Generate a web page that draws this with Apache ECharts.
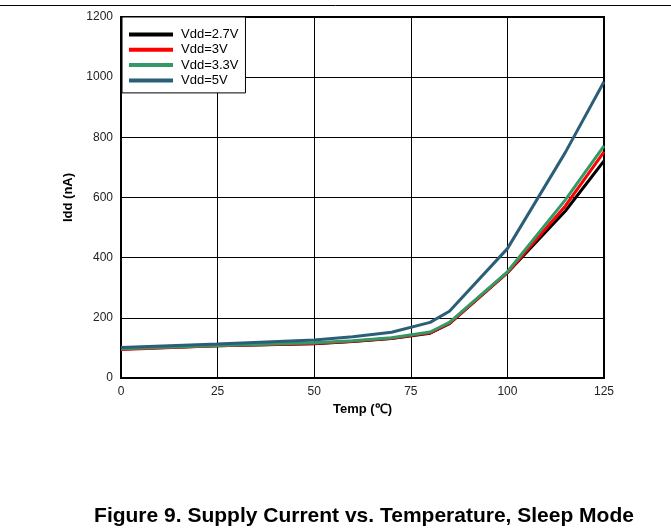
<!DOCTYPE html>
<html>
<head>
<meta charset="utf-8">
<script src="https://cdn.jsdelivr.net/npm/echarts@6/dist/echarts.min.js"></script>
<style>html,body{margin:0;padding:0;background:#fff;}#c{width:671px;height:531px;}</style>
</head>
<body>
<div id="c"></div>
<script>
const temps = [0, 25, 50, 60, 70, 80, 85, 100, 115, 125];
const vdd27 = [96, 107, 114, 121, 131, 149, 181, 350, 555, 722];
const vdd30 = [95, 107, 115, 122, 132, 150, 182, 350, 572, 752];
const vdd33 = [97, 108, 117, 124, 134, 153, 185, 353, 592, 772];
const vdd50 = [101, 113, 126, 137, 152, 185, 222, 430, 750, 985];
const seriesNames = ['Vdd=2.7V', 'Vdd=3V', 'Vdd=3.3V', 'Vdd=5V'];
const seriesColors = ['#000000', '#ff0000', '#339966', '#2b5f78'];
const seriesData = [vdd27, vdd30, vdd33, vdd50];
const xTicks = [0, 25, 50, 75, 100, 125];
const yTicks = [0, 200, 400, 600, 800, 1000, 1200];

const chart = echarts.init(document.getElementById('c'));
const font = 'Liberation Sans, Arial, sans-serif';
chart.setOption({
  animation: false,
  backgroundColor: '#fff',
  graphic: [
    {type: 'line', shape: {x1: 0, y1: 5.5, x2: 671, y2: 5.5}, style: {stroke: '#000', lineWidth: 1}},
    {type: 'text', x: 364, y: 516, style: {text: 'Figure 9. Supply Current vs. Temperature, Sleep Mode', font: 'bold 21px ' + font, fill: '#000', textAlign: 'center', textVerticalAlign: 'middle'}}
  ],
  grid: {left: 121, right: 67, top: 17, bottom: 153, show: true, borderColor: '#000', borderWidth: 2, backgroundColor: 'transparent'},
  legend: {
    orient: 'vertical', left: 122, top: 17,
    data: seriesNames.map(n => ({name: n, icon: 'rect'})),
    itemWidth: 44, itemHeight: 4, itemGap: 0.3,
    backgroundColor: '#fff', borderColor: '#000', borderWidth: 1,
    padding: [10, 7, 5, 7],
    textStyle: {fontFamily: font, fontSize: 13, color: '#000', lineHeight: 15, padding: [0, 0, 0, 3]}
  },
  xAxis: {
    type: 'value', min: 0, max: 125, interval: 25,
    name: 'Temp (℃)', nameLocation: 'middle', nameGap: 23,
    nameTextStyle: {fontFamily: font, fontSize: 13, fontWeight: 'bold', color: '#000'},
    axisLine: {show: true, lineStyle: {color: '#000', width: 2}},
    axisTick: {show: false},
    axisLabel: {fontFamily: font, fontSize: 12, color: '#222', margin: 8,
      formatter: v => xTicks.includes(v) ? String(v) : ''},
    splitLine: {show: true, lineStyle: {color: '#000', width: 1}}
  },
  yAxis: {
    type: 'value', min: 0, max: 1200, interval: 200,
    name: 'Idd (nA)', nameLocation: 'middle', nameGap: 41, nameRotate: 90,
    nameTextStyle: {fontFamily: font, fontSize: 13, fontWeight: 'bold', color: '#000'},
    axisLine: {show: true, lineStyle: {color: '#000', width: 2}},
    axisTick: {show: false},
    axisLabel: {fontFamily: font, fontSize: 12, color: '#222', margin: 8,
      formatter: v => yTicks.includes(v) ? String(v) : ''},
    splitLine: {show: true, lineStyle: {color: '#000', width: 1}}
  },
  series: seriesNames.map((n, i) => ({
    name: n, type: 'line', showSymbol: false, symbol: 'none',
    data: temps.map((t, j) => [t, seriesData[i][j]]),
    lineStyle: {color: seriesColors[i], width: 3},
    itemStyle: {color: seriesColors[i]},
    z: 2 + i
  }))
});
</script>
</body>
</html>
